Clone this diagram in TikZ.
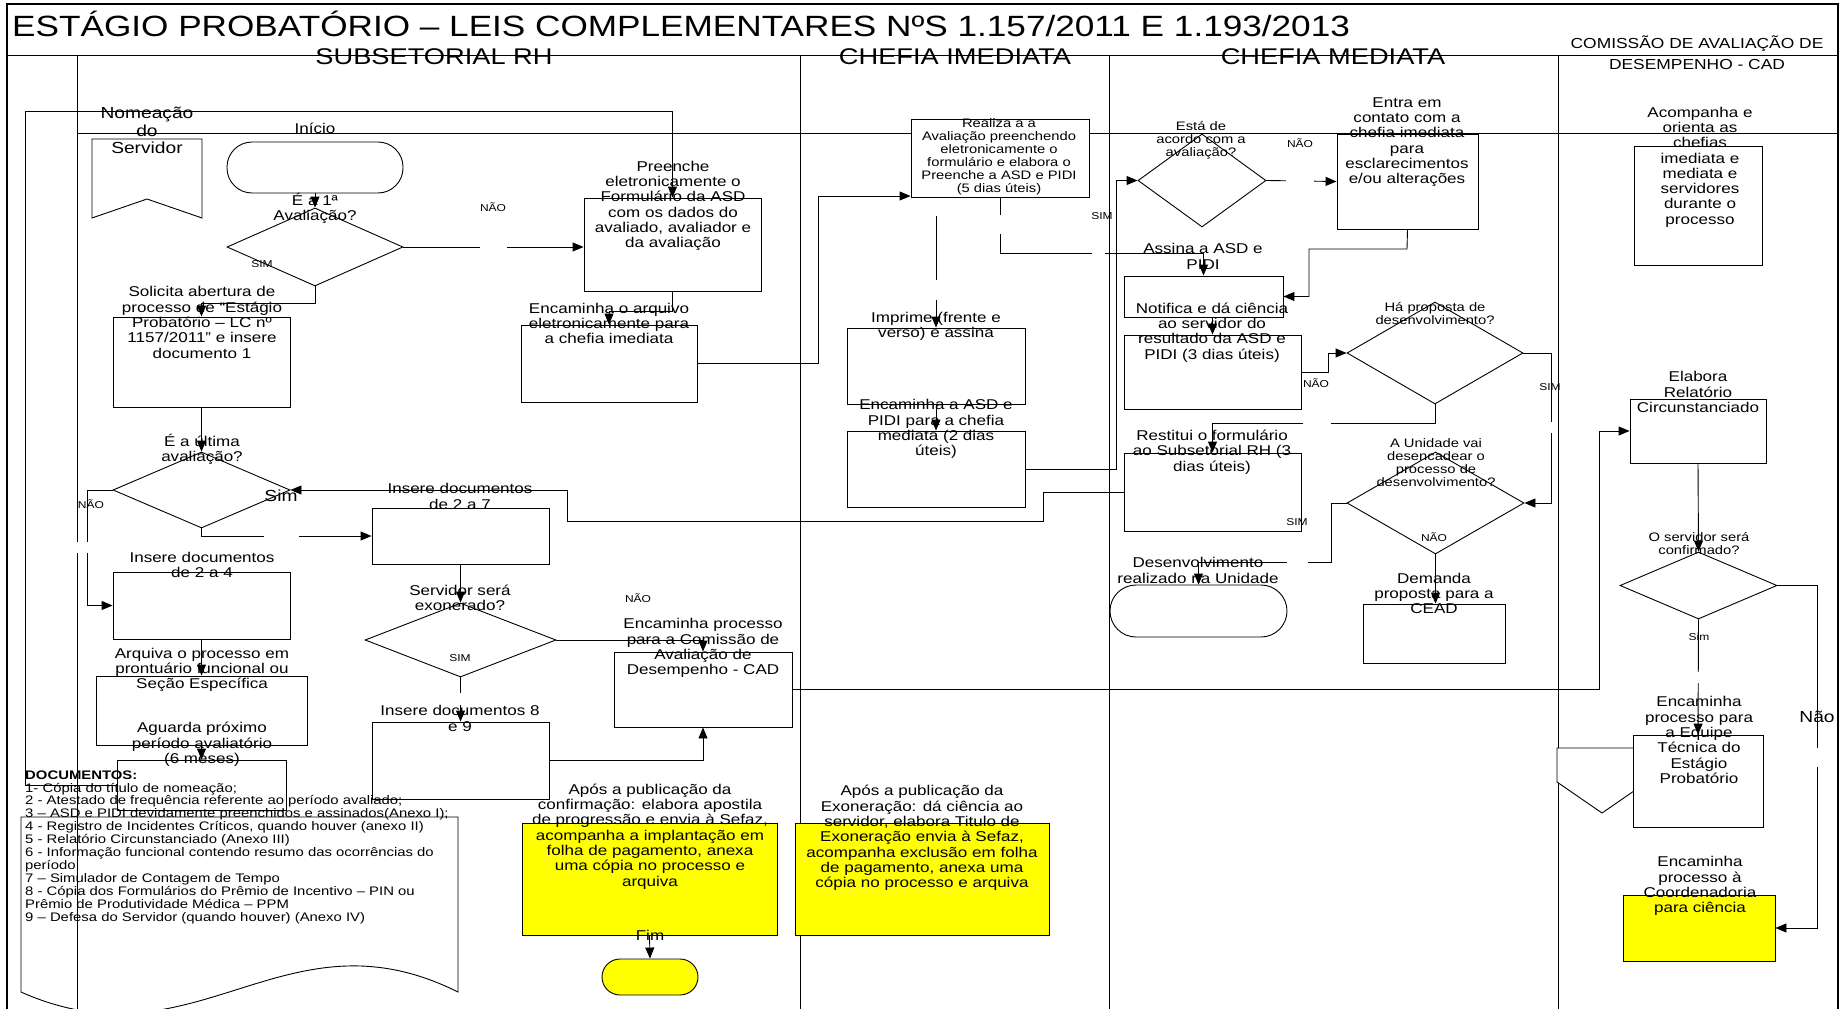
\documentclass[tikz,border=0pt]{standalone}
\usepackage{fontspec}
\setmainfont[FakeStretch=1.2]{Liberation Sans}
\usetikzlibrary{shapes.geometric,arrows.meta,fit}
\definecolor{ylw}{RGB}{255,255,0}
\begin{document}
\begin{tikzpicture}[x=1pt,y=-1pt,
 conn/.style={line width=0.9pt},
 arr/.style={line width=0.9pt,-{Triangle[length=11pt,width=9pt]}},
 gap/.style={draw=white,line width=3.5pt},
 box/.style={draw,fill=white,inner sep=0pt,line width=0.9pt},
 ybox/.style={box,fill=ylw},
 dia/.style={diamond,draw,fill=white,inner sep=0pt,line width=0.9pt},
 lbl/.style={inner sep=0pt,align=center,font=\fontsize{14.2}{15.3}\selectfont},
 slbl/.style={inner sep=0pt,align=center,font=\fontsize{12.3}{13}\selectfont},
 yn/.style={inner sep=0pt,font=\fontsize{10}{11}\selectfont},
 bigl/.style={inner sep=0pt,align=center,font=\fontsize{16}{17.5}\selectfont},
 hdr/.style={inner sep=0pt,font=\fontsize{22.7}{25}\selectfont},
]
\useasboundingbox (0,0) rectangle (1840,1009);
% frame and lanes
\draw[line width=1.5pt] (7,4) rectangle (1838,1015);
\draw[conn] (7,55) -- (1838,55);
\draw[conn] (77,133) -- (1838,133);
\draw[conn] (77,55) -- (77,1015);
\draw[conn] (800,55) -- (800,1015);
\draw[conn] (1109,55) -- (1109,1015);
\draw[conn] (1558,55) -- (1558,1015);
% documents shape
\draw[conn] (21,992) -- (21,817) -- (458,817) -- (458,992) .. controls (284,905) and (196,1070) .. (21,992);
% off-page shapes
\draw[conn,fill=white] (92,139) -- (202,139) -- (202,218) -- (147,199) -- (92,218) -- cycle;
\draw[conn,fill=white] (1557,748) -- (1647,748) -- (1647,782) -- (1602,813) -- (1557,782) -- cycle;
% boxes - subsetorial
\node[box,rounded corners=25pt,fit={(227,142)(403,193)}] (inicio) {};
\node[dia,minimum width=176pt,minimum height=78pt] (d1) at (315,247) {};
\node[box,fit={(113,317)(290,407)}] (solicita) {};
\node[box,fit={(584,198)(761,291)}] (preenche) {};
\node[box,fit={(521,325)(697,402)}] (enc1) {};
\node[dia,minimum width=177pt,minimum height=76pt] (d2) at (201.5,490) {};
\node[box,fit={(113,572)(290,639)}] (ins24) {};
\node[box,fit={(96,676)(307,745)}] (arquiva) {};
\node[box,fit={(117,760)(286,810)}] (aguarda) {};
\node[box,fit={(372,508)(549,564)}] (ins27) {};
\node[dia,minimum width=191pt,minimum height=74pt] (d3) at (460.5,640) {};
\node[box,fit={(614,652)(792,727)}] (cadbox) {};
\node[box,fit={(372,722)(549,799)}] (ins89) {};
\node[ybox,fit={(522,823)(777,935)}] (confirm) {};
\node[ybox,rounded corners=18pt,fit={(602,959)(698,995)}] (fim) {};
% chefia imediata
\node[ybox,fit={(795,823)(1049,935)}] (exon) {};
\node[box,fit={(911,119)(1089,197)}] (realiza) {};
\node[box,fit={(847,328)(1025,404)}] (imprime) {};
\node[box,fit={(847,431)(1025,507)}] (encasd) {};
% chefia mediata
\node[dia,minimum width=128pt,minimum height=93pt] (d4) at (1202,180.5) {};
\node[box,fit={(1337,134)(1478,229)}] (entra) {};
\node[box,fit={(1124,276)(1283,317)}] (assina) {};
\node[box,fit={(1124,335)(1301,409)}] (notifica) {};
\node[dia,minimum width=176pt,minimum height=102pt] (d5) at (1435,353) {};
\node[box,fit={(1124,453)(1301,531)}] (restitui) {};
\node[dia,minimum width=177pt,minimum height=102pt] (d6) at (1435.5,503) {};
\node[box,rounded corners=26pt,fit={(1110,585)(1287,637)}] (desenv) {};
\node[box,fit={(1363,604)(1505,663)}] (demanda) {};
% CAD
\node[box,fit={(1634,146)(1762,265)}] (acomp) {};
\node[box,fit={(1630,399)(1766,463)}] (rel) {};
\node[dia,minimum width=157pt,minimum height=67pt] (d7) at (1698.5,585.5) {};
\node[box,fit={(1633,735)(1763,827)}] (equipe) {};
\node[ybox,fit={(1623,895)(1775,961)}] (coord) {};
% connectors
\draw[arr] (inicio.south) -- (d1.north);
\draw[arr] (d1.south) -- (d1.south |- 0,303) -| (solicita.north);
\draw[arr] (d1.east) -- (d1.east -| preenche.west);
\draw[arr] (aguarda.west) -- (25,785) -- (25,111) -| (preenche.north);
\draw[arr] (preenche.south) -- (preenche.south |- 0,311) -| (enc1.north);
\draw[arr] (enc1.east) -- (818,363.5) -- (818,196) -- (realiza.west |- 0,196);
\draw[arr] (solicita.south) -- (d2.north);
\draw[arr] (d2.west) -- (87,490) |- (ins24.west);
\draw[arr] (d2.south) |- (ins27.west);
\draw[arr] (ins24.south) -- (arquiva.north);
\draw[arr] (arquiva.south) -- (aguarda.north);
\draw[arr] (ins27.south) -- (d3.north);
\draw[arr] (d3.east) -| (cadbox.north);
\draw[arr] (d3.south) -- (ins89.north);
\draw[arr] (ins89.east) -| (cadbox.south);
\draw[arr] (cadbox.east) -- (1599,689.5) |- (rel.west);
\draw[arr] (realiza.south) -- (1000,253) -| (assina.north);
\draw[conn] (imprime.north |- 0,216) -- (imprime.north |- 0,280);
\draw[arr] (imprime.north |- 0,300) -- (imprime.north);
\draw[arr] (imprime.south) -- (encasd.north);
\draw[arr] (encasd.east) -- (1116,469) |- (d4.west);
\draw[arr] (d4.east) -- (entra.west);
\draw[arr] (entra.south) -- (1407,249) -- (1309,249) |- (assina.east);
\draw[arr] (assina.south -| notifica.north) -- (notifica.north);
\draw[arr] (notifica.east) -- (1328,372) |- (d5.west);
\draw[arr] (d5.south) -- (1435,423) -| (restitui.north);
\draw[arr] (d5.east) -- (1551,353) |- (d6.east);
\draw[arr] (restitui.west) -- (1043,492) -- (1043,521) -- (567,521) -- (567,490) -- (d2.east);
\draw[arr] (d6.west) -- (1331,503) -- (1331,562) -| (desenv.north);
\draw[arr] (d6.south) -- (d6.south |- demanda.north);
\draw[arr] (rel.south) -- (d7.north);
\draw[arr] (d7.south) -- (equipe.north);
\draw[arr] (d7.east) -- (1817,585.5) |- (coord.east);
\draw[arr] (confirm.south) -- (fim.north);
% breaks in the connector lines
\draw[gap] (480,247) -- (507,247);
\draw[gap] (264,536) -- (299,536);
\fill[white] (72,542) rectangle (92,553);
\draw[gap] (460.5,693) -- (460.5,705);
\draw[gap] (1000,215) -- (1000,234);
\draw[gap] (1092,253) -- (1105,253);
\draw[gap] (1286,180.5) -- (1314,180.5);
\draw[gap] (1303,423) -- (1331,423);
\draw[gap] (1551,422) -- (1551,433);
\draw[gap] (1287,562) -- (1308,562);
\draw[gap] (1698.5,672) -- (1698.5,683);
\draw[gap] (1817,748) -- (1817,767);
% titles
\node[anchor=west,inner sep=0pt,font=\fontsize{29.3}{32}\selectfont] (title) at (12,24) {ESTÁGIO PROBATÓRIO – LEIS COMPLEMENTARES NºS 1.157/2011 E 1.193/2013};
\node[hdr] (hSub) at (434,57) {SUBSETORIAL RH};
\node[hdr] (hImed) at (955,57) {CHEFIA IMEDIATA};
\node[hdr] (hMed) at (1333,57) {CHEFIA MEDIATA};
\node[inner sep=0pt,align=center,font=\fontsize{14.5}{21}\selectfont] (hCad) at (1697,53) {COMISSÃO DE AVALIAÇÃO DE\\DESEMPENHO - CAD};
% labels
\node[bigl] (lNom) at (147,130.5) {Nomeação\\do\\Servidor};
\node[lbl] (lIni) at (315,128) {Início};
\node[lbl] (lD1) at (315,208) {É a 1ª\\Avaliação?};
\node[yn] (lD1s) at (262,264) {SIM};
\node[yn] (lD1n) at (493,207) {NÃO};
\node[lbl] (lSol) at (202,322.5) {Solicita abertura de\\processo de “Estágio\\Probatório – LC nº\\1157/2011” e insere\\documento 1};
\node[lbl] (lPre) at (673,206) {Preenche\\eletronicamente o\\Formulário da ASD\\com os dados do\\avaliado, avaliador e\\da avaliação};
\node[lbl] (lEnc1) at (609,323.5) {Encaminha o arquivo\\eletronicamente para\\a chefia imediata};
\node[lbl] (lD2) at (202,449.5) {É a última\\avaliação?};
\node[bigl] (lD2s) at (281,496) {Sim};
\node[yn] (lD2n) at (91,504) {NÃO};
\node[lbl] (lIns24) at (202,565) {Insere documentos\\de 2 a 4};
\node[lbl] (lArq) at (202,670) {Arquiva o processo em\\prontuário funcional ou\\Seção Específica};
\node[lbl] (lAgu) at (202,744.5) {Aguarda próximo\\período avaliatório\\(6 meses)};
\node[lbl] (lIns27) at (460,496.5) {Insere documentos\\de 2 a 7};
\node[lbl] (lD3) at (460,597.5) {Servidor será\\exonerado?};
\node[yn] (lD3s) at (460,658) {SIM};
\node[yn] (lD3n) at (638,598) {NÃO};
\node[lbl] (lCad) at (703,648) {Encaminha processo\\para a Comissão de\\Avaliação de\\Desempenho - CAD};
\node[lbl] (lIns89) at (460,718.5) {Insere documentos 8\\e 9};
\node[lbl] (lConf) at (650,836.5) {Após a publicação da\\confirmação: elabora apostila\\de progressão e envia à Sefaz,\\acompanha a implantação em\\folha de pagamento, anexa\\uma cópia no processo e\\arquiva};
\node[lbl] (lFim) at (650,935) {Fim};
\node[lbl] (lExon) at (922,838) {Após a publicação da\\Exoneração: dá ciência ao\\servidor, elabora Titulo de\\Exoneração envia à Sefaz,\\acompanha exclusão em folha\\de pagamento, anexa uma\\cópia no processo e arquiva};
\node[slbl] (lRea) at (999,156.5) {Realiza a a\\Avaliação preenchendo\\eletronicamente o\\formulário e elabora o\\Preenche a ASD e PIDI\\(5 dias úteis)};
\node[lbl] (lImp) at (936,326.5) {Imprime (frente e\\verso) e assina};
\node[lbl] (lEncAsd) at (936,429) {Encaminha a ASD e\\PIDI para a chefia\\mediata (2 dias\\úteis)};
\node[slbl] (lD4) at (1201,140) {Está de\\acordo com a\\avaliação?};
\node[yn] (lD4s) at (1102,216) {SIM};
\node[yn] (lD4n) at (1300,143) {NÃO};
\node[lbl] (lEntra) at (1407,142) {Entra em\\contato com a\\chefia imediata\\para\\esclarecimentos\\e/ou alterações};
\node[lbl] (lAss) at (1203,256.5) {Assina a ASD e\\PIDI};
\node[lbl] (lNot) at (1212,332.5) {Notifica e dá ciência\\ao servidor do\\resultado da ASD e\\PIDI (3 dias úteis)};
\node[yn] (lNotn) at (1316,383) {NÃO};
\node[slbl] (lD5) at (1435,313.5) {Há proposta de\\desenvolvimento?};
\node[yn] (lD5s) at (1550,387) {SIM};
\node[lbl] (lRes) at (1212,452) {Restitui o formulário\\ao Subsetorial RH (3\\dias úteis)};
\node[slbl] (lD6) at (1436,463) {A Unidade vai\\desencadear o\\processo de\\desenvolvimento?};
\node[yn] (lD6s) at (1297,522) {SIM};
\node[yn] (lD6n) at (1434,537) {NÃO};
\node[lbl] (lDes) at (1198,570.5) {Desenvolvimento\\realizado na Unidade};
\node[lbl] (lDem) at (1434,593.5) {Demanda\\proposta para a\\CEAD};
\node[lbl] (lAco) at (1700,167) {Acompanha e\\orienta as\\chefias\\imediata e\\mediata e\\servidores\\durante o\\processo};
\node[lbl] (lRel) at (1698,392) {Elabora\\Relatório\\Circunstanciado};
\node[slbl] (lD7) at (1699,543.5) {O servidor será\\confirmado?};
\node[yn] (lD7s) at (1699,637) {Sim};
\node[lbl] (lEqu) at (1699,740) {Encaminha\\processo para\\a Equipe\\Técnica do\\Estágio\\Probatório};
\node[bigl] (lD7n) at (1817,717) {Não};
\node[lbl] (lCoo) at (1700,886) {Encaminha\\processo à\\Coordenadoria\\para ciência};
\node[anchor=west,inner sep=0pt,align=left,font=\fontsize{12.4}{12.9}\selectfont] (docs) at (25,847) {\textbf{DOCUMENTOS:}\\1- Cópia do título de nomeação;\\2 - Atestado de frequência referente ao período avaliado;\\3 – ASD e PIDI devidamente preenchidos e assinados(Anexo I);\\4 - Registro de Incidentes Críticos, quando houver (anexo II)\\5 - Relatório Circunstanciado (Anexo III)\\6 - Informação funcional contendo resumo das ocorrências do\\período\\7 – Simulador de Contagem de Tempo\\8 - Cópia dos Formulários do Prêmio de Incentivo – PIN ou\\Prêmio de Produtividade Médica – PPM\\9 – Defesa do Servidor (quando houver) (Anexo IV)};
\end{tikzpicture}
\end{document}
